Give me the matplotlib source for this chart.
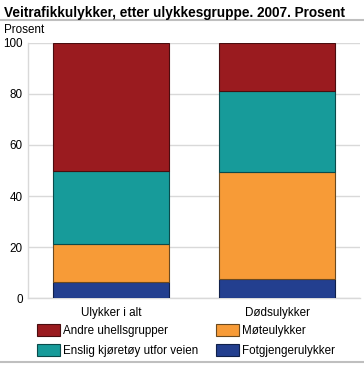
import matplotlib
matplotlib.use("Agg")
import matplotlib.pyplot as plt
from matplotlib.lines import Line2D

plt.rcParams['font.family'] = ['Liberation Sans', 'DejaVu Sans']

title = "Veitrafikkulykker, etter ulykkesgruppe. 2007. Prosent"
ylabel = "Prosent"
categories = ["Ulykker i alt", "Dødsulykker"]
series_names = ["Fotgjengerulykker", "Møteulykker", "Enslig kjøretøy utfor veien", "Andre uhellsgrupper"]
fotgjenger = [6.3, 7.4]
mote = [14.8, 41.9]
enslig = [28.8, 31.9]
andre = [50.1, 18.8]
yticks = [0, 20, 40, 60, 80, 100]

colors = ["#233F8F", "#F79B37", "#179B9A", "#9A1B1F"]
edges = ["#10204a", "#6b4a20", "#0b4a4a", "#4a0d0f"]

fs = 8.4

fig = plt.figure(figsize=(3.64, 3.65), dpi=100)
ax = fig.add_axes([28/364, 66.7/365, 332/364, 255.6/365])

x = list(range(len(categories)))
bottom = [0.0] * len(categories)
handles = {}
for name, vals, c, e in zip(series_names, [fotgjenger, mote, enslig, andre], colors, edges):
    b = ax.bar(x, vals, width=0.7, bottom=bottom, color=c, edgecolor=e, linewidth=0.8, zorder=3, label=name)
    handles[name] = b
    bottom = [bo + v for bo, v in zip(bottom, vals)]

ax.set_xlim(-0.5, 1.5)
ax.set_ylim(0, 100)
ax.set_yticks(yticks)
ax.set_xticks(x)
ax.set_xticklabels(categories, fontsize=fs)
ax.tick_params(axis='y', labelsize=fs, length=0, pad=3.8)
ax.tick_params(axis='x', length=0, pad=6)
ax.grid(axis='y', color='#d9d9d9', linewidth=1, zorder=0)
for s in ['top', 'right']:
    ax.spines[s].set_visible(False)
ax.spines['left'].set_color('#d9d9d9')
ax.spines['bottom'].set_color('#d9d9d9')
ax.spines['left'].set_linewidth(1)
ax.spines['bottom'].set_linewidth(1)

fig.text(4/364, 1 - 12.5/365, title, fontsize=9.8, fontweight='bold', va='center', ha='left')
fig.text(4/364, 1 - 30/365, ylabel, fontsize=fs, va='center', ha='left')
fig.add_artist(Line2D([0, 1], [1 - 20/365, 1 - 20/365], color='#bfbfbf', linewidth=1.5))
fig.add_artist(Line2D([0, 1], [1 - 362/365, 1 - 362/365], color='#bfbfbf', linewidth=1.5))

order = ["Andre uhellsgrupper", "Enslig kjøretøy utfor veien", "Møteulykker", "Fotgjengerulykker"]
fig.legend([handles[n] for n in order], order, ncol=2, loc='upper left',
           bbox_to_anchor=(37/364, 1 - 324/365), frameon=False, fontsize=fs,
           borderpad=0, borderaxespad=0, handlelength=2.0, handleheight=1.2,
           handletextpad=0.26, columnspacing=1.45, labelspacing=0.62)

fig.savefig("out.png", dpi=100)
